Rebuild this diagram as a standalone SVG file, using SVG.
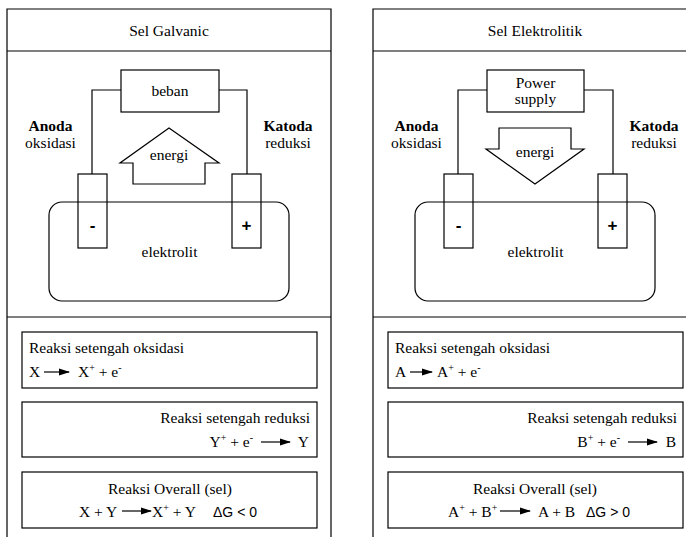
<svg xmlns="http://www.w3.org/2000/svg" width="686" height="537" viewBox="0 0 686 537">
<style>
.s{font-family:"Liberation Serif","Times New Roman",serif;font-size:15.5px;fill:#000}
.b{font-weight:bold}
.m{text-anchor:middle}
.e{text-anchor:end}
.ss{font-family:"Liberation Sans",Arial,sans-serif;font-size:14px;fill:#000}
.pm{font-family:"Liberation Sans",Arial,sans-serif;font-size:17px;font-weight:bold;fill:#000;text-anchor:middle}
.ln{fill:none;stroke:#000;stroke-width:1.2}
.sup{font-size:10px}
</style>
<defs>
<marker id="ah" markerWidth="11" markerHeight="8" refX="10" refY="4" orient="auto" markerUnits="userSpaceOnUse">
<path d="M0,0.5 L11,4 L0,7.5 Z" fill="#000"/>
</marker>
</defs>

<g id="panel-galvanic-frame" class="ln">
<path d="M7,537 V9 H331 V537"/>
<path d="M7,51 H331"/>
<path d="M7,317 H331"/>
</g>
<g id="panel-elektrolitik-frame" class="ln">
<path d="M373,537 V9 H690"/>
<path d="M373,51 H690"/>
<path d="M373,317 H690"/>
</g>

<g id="title-galvanic"><text class="s m" x="169" y="36">Sel Galvanic</text></g>
<g id="title-elektrolitik"><text class="s m" x="535" y="36">Sel Elektrolitik</text></g>

<g id="connectors" class="ln">
<path d="M121,90 H92 V174"/>
<path d="M219,90 H247 V174"/>
<path d="M487,90 H458 V174"/>
<path d="M584,90 H613 V174"/>
</g>

<g id="beban">
<rect class="ln" x="121" y="70" width="98" height="42"/>
<text class="s m" x="170" y="96">beban</text>
</g>
<g id="anoda-g">
<text class="s m b" x="50.5" y="131">Anoda</text>
<text class="s m" x="50.5" y="148">oksidasi</text>
</g>
<g id="katoda-g">
<text class="s m b" x="288" y="131">Katoda</text>
<text class="s m" x="288" y="148">reduksi</text>
</g>
<g id="energi-g">
<polygon class="ln" points="169,128 219,163 205,163 205,184 133,184 133,163 120,163"/>
<text class="s m" x="169" y="160">energi</text>
</g>
<g id="elektrolit-g">
<rect class="ln" x="49" y="202" width="240" height="99" rx="13" ry="13"/>
<text class="s m" x="169.5" y="257">elektrolit</text>
</g>
<g id="elektroda-neg-g">
<rect class="ln" x="78" y="174" width="29" height="74"/>
<text class="pm" x="92.5" y="231">-</text>
</g>
<g id="elektroda-pos-g">
<rect class="ln" x="232" y="174" width="29" height="74"/>
<text class="pm" x="246.5" y="231">+</text>
</g>

<g id="power-supply">
<rect class="ln" x="487" y="70" width="97" height="42"/>
<text class="s m" x="535.5" y="88">Power</text>
<text class="s m" x="535.5" y="104">supply</text>
</g>
<g id="anoda-e">
<text class="s m b" x="416.5" y="131">Anoda</text>
<text class="s m" x="416.5" y="148">oksidasi</text>
</g>
<g id="katoda-e">
<text class="s m b" x="654" y="131">Katoda</text>
<text class="s m" x="654" y="148">reduksi</text>
</g>
<g id="energi-e">
<polygon class="ln" points="499,128 571,128 571,149 584,149 535,184 486,149 499,149"/>
<text class="s m" x="535" y="157">energi</text>
</g>
<g id="elektrolit-e">
<rect class="ln" x="415" y="202" width="240" height="99" rx="13" ry="13"/>
<text class="s m" x="535.5" y="257">elektrolit</text>
</g>
<g id="elektroda-neg-e">
<rect class="ln" x="444" y="174" width="29" height="74"/>
<text class="pm" x="458.5" y="231">-</text>
</g>
<g id="elektroda-pos-e">
<rect class="ln" x="598" y="174" width="29" height="74"/>
<text class="pm" x="612.5" y="231">+</text>
</g>

<g id="oks-g">
<rect class="ln" x="22" y="332" width="295" height="56"/>
<text class="s" x="29" y="353">Reaksi setengah oksidasi</text>
<text class="s" x="29" y="377">X</text>
<line class="ln" x1="44" y1="372" x2="69" y2="372" marker-end="url(#ah)"/>
<text class="s" x="78" y="377">X<tspan class="sup" dy="-6">+</tspan><tspan dy="6"> + e</tspan><tspan class="sup" dy="-6">-</tspan></text>
</g>
<g id="red-g">
<rect class="ln" x="22" y="402" width="295" height="55"/>
<text class="s e" x="310" y="423">Reaksi setengah reduksi</text>
<text class="s e" x="253" y="447">Y<tspan class="sup" dy="-6">+</tspan><tspan dy="6"> + e</tspan><tspan class="sup" dy="-6">-</tspan></text>
<line class="ln" x1="261" y1="442" x2="290" y2="442" marker-end="url(#ah)"/>
<text class="s e" x="309" y="447">Y</text>
</g>
<g id="overall-g">
<rect class="ln" x="22" y="472" width="295" height="56"/>
<text class="s m" x="170" y="494">Reaksi Overall (sel)</text>
<text class="s" x="79" y="517">X + Y</text>
<line class="ln" x1="122" y1="511" x2="151" y2="511" marker-end="url(#ah)"/>
<text class="s" x="152" y="517">X<tspan class="sup" dy="-6">+</tspan><tspan dy="6"> + Y</tspan></text>
<text class="ss" x="213" y="517">ΔG &lt; 0</text>
</g>

<g id="oks-e">
<rect class="ln" x="388" y="332" width="295" height="56"/>
<text class="s" x="395" y="353">Reaksi setengah oksidasi</text>
<text class="s" x="395" y="377">A</text>
<line class="ln" x1="410" y1="372" x2="432" y2="372" marker-end="url(#ah)"/>
<text class="s" x="437" y="377">A<tspan class="sup" dy="-6">+</tspan><tspan dy="6"> + e</tspan><tspan class="sup" dy="-6">-</tspan></text>
</g>
<g id="red-e">
<rect class="ln" x="388" y="402" width="295" height="55"/>
<text class="s e" x="677" y="423">Reaksi setengah reduksi</text>
<text class="s e" x="620" y="447">B<tspan class="sup" dy="-6">+</tspan><tspan dy="6"> + e</tspan><tspan class="sup" dy="-6">-</tspan></text>
<line class="ln" x1="628" y1="442" x2="657" y2="442" marker-end="url(#ah)"/>
<text class="s e" x="676" y="447">B</text>
</g>
<g id="overall-e">
<rect class="ln" x="388" y="472" width="295" height="56"/>
<text class="s m" x="535" y="494">Reaksi Overall (sel)</text>
<text class="s" x="448" y="517">A<tspan class="sup" dy="-6">+</tspan><tspan dy="6"> + B</tspan><tspan class="sup" dy="-6">+</tspan></text>
<line class="ln" x1="500" y1="511" x2="530" y2="511" marker-end="url(#ah)"/>
<text class="s" x="538" y="517">A + B</text>
<text class="ss" x="586" y="517">ΔG &gt; 0</text>
</g>
</svg>
